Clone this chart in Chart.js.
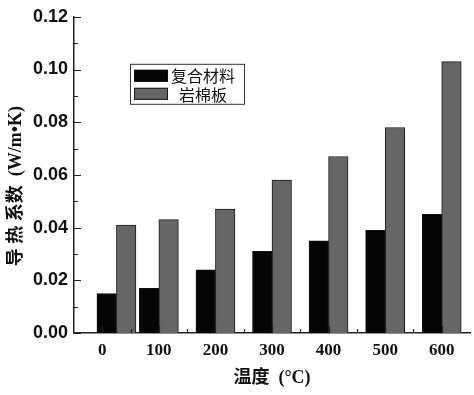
<!DOCTYPE html>
<html>
<head>
<meta charset="utf-8">
<script src="https://cdn.jsdelivr.net/npm/chart.js@4"></script>
<style>
html, body { margin: 0; padding: 0; background: #fff; }
</style>
</head>
<body>
<canvas id="myChart" width="474" height="395"></canvas>
<script>
// temperature of each bar group (first one is room temperature)
var temps = [25, 100, 200, 300, 400, 500, 600];
var composite = [0.015, 0.017, 0.024, 0.031, 0.035, 0.039, 0.045];
var rockWool = [0.041, 0.043, 0.047, 0.058, 0.067, 0.078, 0.103];
var seriesNames = ['复合材料', '岩棉板'];
var xTicks = [0, 100, 200, 300, 400, 500, 600];
var yTicks = [0, 0.02, 0.04, 0.06, 0.08, 0.10, 0.12];

// legend box drawn inside the plot
var boxLegend = {
  id: 'boxLegend',
  afterDraw: function (chart) {
    var ctx = chart.ctx, a = chart.chartArea;
    var x = a.left + 56, y = a.top + 47, w = 114, h = 40;
    ctx.save();
    ctx.fillStyle = '#fff';
    ctx.fillRect(x, y, w, h);
    ctx.strokeStyle = '#333';
    ctx.lineWidth = 1;
    ctx.strokeRect(x + 0.5, y + 0.5, w, h);
    chart.data.datasets.forEach(function (ds, i) {
      var sy = y + 6 + i * 18;
      ctx.fillStyle = ds.backgroundColor;
      ctx.fillRect(x + 4, sy, 34, 12);
      ctx.strokeStyle = ds.borderColor;
      ctx.strokeRect(x + 4.5, sy + 0.5, 33, 11);
      ctx.fillStyle = '#111';
      ctx.font = '16px "Noto Sans CJK SC"';
      ctx.textAlign = 'center';
      ctx.textBaseline = 'middle';
      ctx.fillText(ds.label, x + 73, sy + 6 + i);
    });
    ctx.restore();
  }
};

// small inward ticks like the original (drawn on top of the bars)
var innerTicks = {
  id: 'innerTicks',
  afterDatasetsDraw: function (chart) {
    var ctx = chart.ctx, xs = chart.scales.x, ys = chart.scales.y, a = chart.chartArea;
    ctx.save();
    ctx.strokeStyle = '#222';
    ctx.lineWidth = 1.2;
    ctx.beginPath();
    var yMax = yTicks[yTicks.length - 1];
    for (var v = 0; v <= yMax + 1e-9; v += 0.01) {
      var py = Math.round(ys.getPixelForValue(v)) + 0.5;
      var major = Math.round(v * 100) % 2 === 0;
      ctx.moveTo(a.left, py);
      ctx.lineTo(a.left + (major ? 7 : 4), py);
    }
    for (var t = xTicks[0]; t <= xTicks[xTicks.length - 1]; t += 50) {
      var px = Math.round(xs.getPixelForValue(t)) + 0.5;
      ctx.moveTo(px, a.bottom);
      ctx.lineTo(px, a.bottom - (t % 100 === 0 ? 7 : 4));
    }
    ctx.stroke();
    ctx.restore();
  }
};

var data = {
  labels: temps,
  datasets: [
    {
      label: seriesNames[0],
      data: composite,
      backgroundColor: '#050505',
      borderColor: '#111',
      borderWidth: 1,
      barThickness: 19.5
    },
    {
      label: seriesNames[1],
      data: rockWool,
      backgroundColor: '#666666',
      borderColor: '#1a1a1a',
      borderWidth: 1,
      barThickness: 19.5
    }
  ]
};

var options = {
  responsive: false,
  animation: false,
  layout: { padding: { top: 13, right: 4, left: 0, bottom: 0 } },
  plugins: {
    legend: { display: false },
    tooltip: { enabled: false }
  },
  scales: {
    x: {
      type: 'linear',
      offset: false,
      min: -50,
      max: 650,
      afterBuildTicks: function (scale) {
        scale.ticks = xTicks.map(function (v) { return { value: v }; });
      },
      afterFit: function (scale) { scale.height = 62; },
      grid: { display: false, drawTicks: false, offset: false },
      border: { color: '#222', width: 1.5 },
      ticks: {
        padding: 7,
        maxRotation: 0,
        color: '#111',
        font: { family: '"Liberation Serif"', size: 17, weight: 'bold' },
        callback: function (v) { return String(v); }
      },
      title: {
        display: true,
        text: '温度\u00a0\u00a0(°C)',
        color: '#111',
        padding: { top: 0, bottom: 6 },
        font: { family: '"Liberation Serif", "Noto Sans CJK SC"', size: 18, weight: 'bold' }
      }
    },
    y: {
      min: 0,
      max: 0.12,
      afterBuildTicks: function (scale) {
        scale.ticks = yTicks.map(function (v) { return { value: v }; });
      },
      afterFit: function (scale) { scale.width = 74; },
      grid: { display: false, drawTicks: false },
      border: { color: '#222', width: 1.5 },
      ticks: {
        padding: 6,
        color: '#111',
        font: { family: '"Liberation Sans"', size: 18, weight: 'bold' },
        callback: function (v) { return v.toFixed(2); }
      },
      title: {
        display: true,
        text: '导\u00a0热\u00a0系数\u00a0\u00a0(W/m•K)\u00a0\u00a0\u00a0\u00a0\u00a0',
        color: '#111',
        padding: { top: 6, bottom: 0 },
        font: { family: '"Liberation Serif", "Noto Sans CJK SC"', size: 18, weight: 'bold' }
      }
    }
  }
};

var ctx = document.getElementById('myChart').getContext('2d');
var myChart = new Chart(ctx, {
  type: 'bar',
  data: data,
  options: options,
  plugins: [innerTicks, boxLegend]
});
</script>
</body>
</html>
